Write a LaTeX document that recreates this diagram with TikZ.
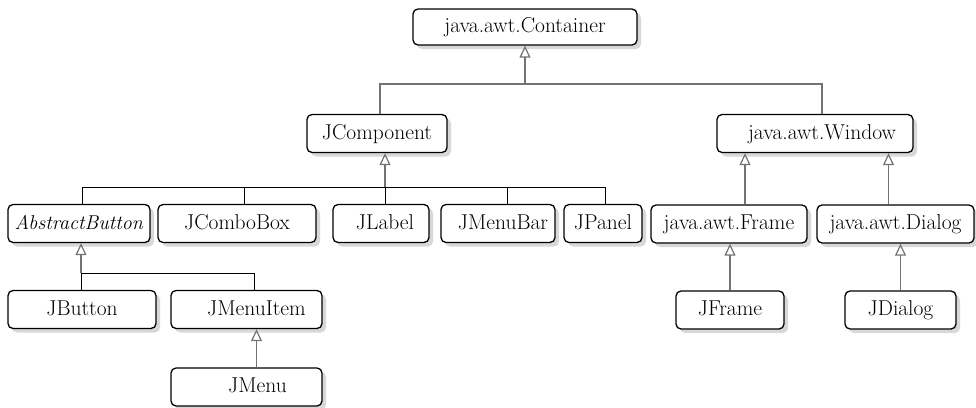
\documentclass[tikz,border=0pt]{standalone}
\usepackage{fontspec}
\usetikzlibrary{arrows.meta,shadows}
\begin{document}
\begin{tikzpicture}[x=1pt,y=-1pt,
  cls/.style={draw=black, line width=1.3pt, rounded corners=5pt, fill=white,
    minimum height=38pt, inner sep=3pt, text height=15pt, text depth=4pt,
    font=\fontsize{21.5}{25}\selectfont,
    drop shadow={shadow xshift=4pt, shadow yshift=-4pt, fill=black!22, opacity=0.7}},
  gline/.style={draw=black!55, line width=1.2pt},
  inh/.style={gline, -{Triangle[open, length=12pt, width=11pt, line width=1.2pt]}},
  bus/.style={draw=black, line width=0.9pt}]
\useasboundingbox (0,0) rectangle (976,407);

% classes
\node[cls, minimum width=224pt, minimum height=36pt] (cont) at (525,27) {java.awt.Container};
\node[cls, minimum width=140pt] (jcomp) at (377,133.5) {JComponent};
\node[cls, minimum width=196pt] (win) at (815,133.5) {\hspace*{14pt}java.awt.Window};

\node[cls, minimum width=142pt] (abtn) at (79,223.5) {\fontsize{20}{24}\selectfont\textit{AbstractButton}};
\node[cls, minimum width=158pt] (combo) at (237,223.5) {JComboBox};
\node[cls, minimum width=96pt] (jlabel) at (381,223.5) {\hspace*{8pt}JLabel};
\node[cls, minimum width=114pt] (jmbar) at (498,223.5) {\hspace*{10pt}JMenuBar};
\node[cls, minimum width=78pt] (jpanel) at (603,223.5) {JPanel};
\node[cls, minimum width=156pt] (frame) at (729,224) {java.awt.Frame};
\node[cls, minimum width=157pt] (dialog) at (895.5,224) {java.awt.Dialog};

\node[cls, minimum width=148pt] (jbutton) at (82,309.5) {JButton};
\node[cls, minimum width=151pt] (jmitem) at (246.5,309.5) {\hspace*{20pt}JMenuItem};
\node[cls, minimum width=151pt] (jmenu) at (246.5,387) {\hspace*{22pt}JMenu};
\node[cls, minimum width=108pt] (jframe) at (730,310) {JFrame};
\node[cls, minimum width=111pt] (jdialog) at (900.5,310) {JDialog};

% JComponent and Window extend Container
\coordinate (j1) at (cont.south |- 0,84);
\draw[inh] (j1) -- (cont.south);
\draw[gline] ([xshift=3pt]jcomp.north) |- ([xshift=7pt]win.north |- j1) -- ([xshift=7pt]win.north);

% subclasses of JComponent
\coordinate (j2) at ([xshift=8pt]jcomp.south |- 0,187);
\draw[inh] (j2) -- ([xshift=8pt]jcomp.south);
\draw[bus] ([xshift=3pt]abtn.north) |- ([xshift=2pt]jpanel.north |- j2) -- ([xshift=2pt]jpanel.north);
\draw[bus] ([xshift=7pt]combo.north) -- ([xshift=7pt]combo.north |- j2);
\draw[bus] ([xshift=4pt]jlabel.north) -- ([xshift=4pt]jlabel.north |- j2);
\draw[bus] ([xshift=9pt]jmbar.north) -- ([xshift=9pt]jmbar.north |- j2);

% subclasses of Window
\draw[inh] ([xshift=16pt]frame.north) -- ([xshift=16pt]frame.north |- win.south);
\draw[inh] ([xshift=-7pt]dialog.north) -- ([xshift=-7pt]dialog.north |- win.south);
\draw[inh] (jframe.north) -- (jframe.north |- frame.south);
\draw[inh] (jdialog.north) -- (jdialog.north |- dialog.south);

% subclasses of AbstractButton
\coordinate (j3) at ([xshift=2pt]abtn.south |- 0,273);
\draw[inh] (j3) -- ([xshift=2pt]abtn.south);
\draw[bus] (jbutton.north -| j3) |- ([xshift=8pt]jmitem.north |- j3) -- ([xshift=8pt]jmitem.north);
\draw[inh] ([xshift=10pt]jmenu.north) -- ([xshift=10pt]jmenu.north |- jmitem.south);
\end{tikzpicture}
\end{document}
